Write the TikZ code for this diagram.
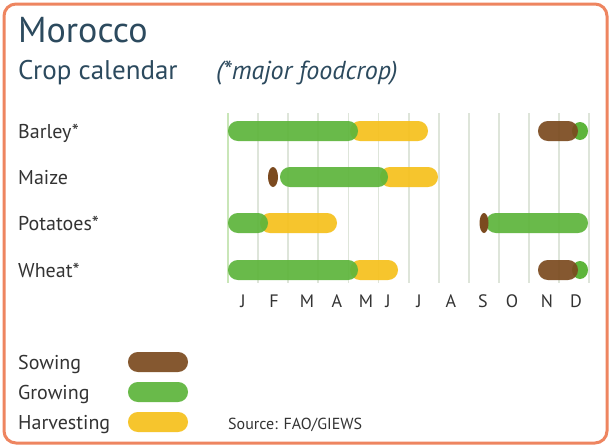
\documentclass[tikz,border=0pt]{standalone}
\usepackage{fontspec}
\setmainfont{PT Sans}
\definecolor{bordercol}{HTML}{EE8560}
\definecolor{titlecol}{HTML}{2C4A5E}
\definecolor{textcol}{HTML}{333333}
\definecolor{gridcol}{HTML}{DEE5DA}
\definecolor{gridfirst}{HTML}{C9E6B8}
\definecolor{sowcol}{HTML}{7B4A1F}
\definecolor{growcol}{HTML}{5DB53B}
\definecolor{harvcol}{HTML}{F6C11C}
\newcommand{\pill}[4]{\fill[#1, fill opacity=0.92, rounded corners=9.9] (#2,#4-10) rectangle (#3,#4+10);}
\newcommand{\seed}[3]{\fill[sowcol] (#1,#3) ellipse [x radius=#2, y radius=10];}
\newcommand{\tail}[2]{\fill[growcol] (#1,#2) ellipse [x radius=8, y radius=9];}
\begin{document}
\begin{tikzpicture}[x=1pt,y=-1pt,
  lbl/.style={anchor=base west, inner sep=0, text=textcol, font=\fontsize{20}{22}\selectfont},
  mon/.style={anchor=base, inner sep=0, text=textcol, font=\fontsize{18}{20}\selectfont}]
\useasboundingbox (0,0) rectangle (611,447);
\fill[white] (0,0) rectangle (611,447);
\draw[bordercol, line width=3, rounded corners=12] (4,4) rectangle (607,443);
% titles
\node[anchor=base west, inner sep=0, text=titlecol, font=\fontsize{36}{40}\selectfont] (title) at (18,42) {Morocco};
\node[anchor=base west, inner sep=0, text=titlecol, font=\fontsize{27}{30}\selectfont] (sub) at (18,79) {Crop calendar};
\node[anchor=base west, inner sep=0, text=titlecol, font=\fontsize{26}{30}\selectfont\itshape] (note) at (216,79) {(*major foodcrop)};
% grid
\draw[gridfirst, line width=1.8] (228,113) -- (228,283);
\foreach \i in {1,...,12} \draw[gridcol, line width=1.8] ({228+30.1*\i},113) -- ({228+30.1*\i},283);
% row labels
\node[lbl] (barley) at (18,138) {Barley*};
\node[lbl] (maize) at (18,184) {Maize};
\node[lbl] (potatoes) at (18,230) {Potatoes*};
\node[lbl] (wheat) at (18,277) {Wheat*};
% Barley
\pill{harvcol}{350}{428}{131}
\pill{growcol}{228}{358}{131}
\tail{580}{131}
\pill{sowcol}{538}{578}{131}
% Maize
\pill{harvcol}{380}{438}{177}
\pill{growcol}{280}{388}{177}
\seed{273}{5}{177}
% Potatoes
\pill{harvcol}{260}{337}{223}
\pill{growcol}{228}{268}{223}
\pill{growcol}{486}{588}{223}
\seed{484}{4.5}{223}
% Wheat
\pill{harvcol}{350}{398}{270}
\pill{growcol}{228}{358}{270}
\tail{580}{270}
\pill{sowcol}{538}{578}{270}
% months
\foreach \m/\x [count=\k] in {J/243,F/274,M/307,A/337,M/366,J/388,J/419,A/451,S/483,O/512,N/547,D/576}
  \node[mon] (m\k) at (\x,307) {\m};
% legend
\node[lbl] (lsow) at (18,369) {Sowing};
\node[lbl] (lgrow) at (18,399) {Growing};
\node[lbl] (lharv) at (18,429) {Harvesting};
\pill{sowcol}{128}{188}{362}
\pill{growcol}{128}{188}{392}
\pill{harvcol}{128}{188}{422}
\node[anchor=base west, inner sep=0, text=textcol, font=\fontsize{16}{20}\selectfont] (src) at (228,429) {Source: FAO/GIEWS};
\end{tikzpicture}
\end{document}
